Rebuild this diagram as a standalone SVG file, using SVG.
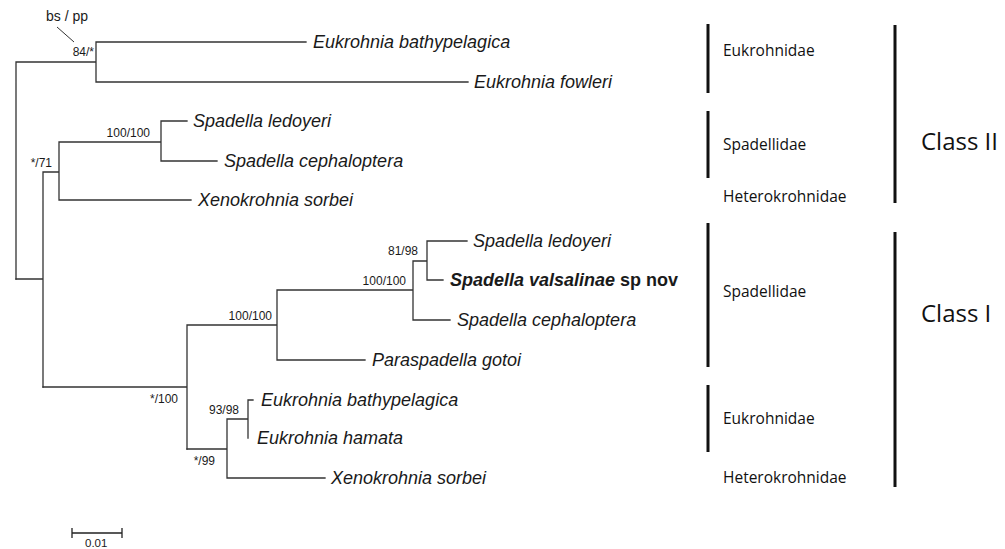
<svg xmlns="http://www.w3.org/2000/svg" width="1005" height="549" viewBox="0 0 1005 549">
<style>
.br{stroke:#333;stroke-width:1.3;fill:none;stroke-linecap:square}
.bar{stroke:#111;stroke-width:3;fill:none}
.tx{font-family:"Liberation Sans",Arial,sans-serif;font-style:italic;font-size:18px;fill:#1a1a1a}
.bold{font-weight:bold}
.sup{font-family:"Liberation Sans",Arial,sans-serif;font-size:12px;fill:#1a1a1a}
.fam{font-family:"Open Sans","Noto Sans",sans-serif;font-size:15.5px;fill:#111}
.cls{font-family:"Open Sans","Noto Sans",sans-serif;font-size:24px;fill:#111}
</style>
<rect width="1005" height="549" fill="#fff"/>
<g id="connectors">
<path class="br" d="M16 62V279M16 62H96M96 42V82M96 42H306M96 82H468"/>
<path class="br" d="M16 279H43M43 172V387M43 172H59M59 142V200M59 142H161M161 121V161M161 121H187M161 161H217M59 200H191"/>
<path class="br" d="M43 387H187M187 325V449M187 325H277M277 290V360M277 290H413M413 261V320M413 261H427M427 241V280M427 241H467M427 280H443M413 320H450M277 360H365"/>
<path class="br" d="M187 449H227M227 419V478M227 419H248M248 400V438M248 400H253M227 478H325"/>
<path d="M57 27L74 42" stroke="#333" stroke-width="1" fill="none"/>
</g>
<g id="support-labels">
<text class="sup" x="46" y="21" style="font-size:14px">bs / pp</text>
<text class="sup" x="94" y="56" text-anchor="end">84/*</text>
<text class="sup" x="150" y="137" text-anchor="end">100/100</text>
<text class="sup" x="52" y="167" text-anchor="end">*/71</text>
<text class="sup" x="272" y="320" text-anchor="end">100/100</text>
<text class="sup" x="406" y="285" text-anchor="end">100/100</text>
<text class="sup" x="418" y="255" text-anchor="end">81/98</text>
<text class="sup" x="178" y="403" text-anchor="end">*/100</text>
<text class="sup" x="239" y="414" text-anchor="end">93/98</text>
<text class="sup" x="215" y="465" text-anchor="end">*/99</text>
</g>
<g id="leaf-eukrohnia-bathypelagica-1"><text class="tx" x="313" y="48">Eukrohnia bathypelagica</text></g>
<g id="leaf-eukrohnia-fowleri"><text class="tx" x="474" y="88">Eukrohnia fowleri</text></g>
<g id="leaf-spadella-ledoyeri-1"><text class="tx" x="193" y="127">Spadella ledoyeri</text></g>
<g id="leaf-spadella-cephaloptera-1"><text class="tx" x="224" y="167">Spadella cephaloptera</text></g>
<g id="leaf-xenokrohnia-sorbei-1"><text class="tx" x="198" y="206">Xenokrohnia sorbei</text></g>
<g id="leaf-spadella-ledoyeri-2"><text class="tx" x="473" y="247">Spadella ledoyeri</text></g>
<g id="leaf-spadella-valsalinae"><text class="tx bold" x="450" y="286">Spadella valsalinae<tspan style="font-style:normal"> sp nov</tspan></text></g>
<g id="leaf-spadella-cephaloptera-2"><text class="tx" x="457" y="326">Spadella cephaloptera</text></g>
<g id="leaf-paraspadella-gotoi"><text class="tx" x="372" y="366">Paraspadella gotoi</text></g>
<g id="leaf-eukrohnia-bathypelagica-2"><text class="tx" x="261" y="406">Eukrohnia bathypelagica</text></g>
<g id="leaf-eukrohnia-hamata"><text class="tx" x="257" y="444">Eukrohnia hamata</text></g>
<g id="leaf-xenokrohnia-sorbei-2"><text class="tx" x="331" y="484">Xenokrohnia sorbei</text></g>
<g id="family-labels">
<path class="bar" d="M708 24V93M708 111V178M708 223V367M708 385V452"/>
<text class="fam" x="723" y="56">Eukrohnidae</text>
<text class="fam" x="723" y="150">Spadellidae</text>
<text class="fam" x="723" y="202">Heterokrohnidae</text>
<text class="fam" x="723" y="297">Spadellidae</text>
<text class="fam" x="723" y="424">Eukrohnidae</text>
<text class="fam" x="723" y="483">Heterokrohnidae</text>
</g>
<g id="class-labels">
<path class="bar" d="M895 25V203M895 232V487"/>
<text class="cls" x="921" y="150">Class II</text>
<text class="cls" x="921" y="322">Class I</text>
</g>
<g id="scale-bar">
<path d="M72 533H122M72 528V538M122 528V538" stroke="#222" stroke-width="1.3" fill="none"/>
<text class="sup" x="85" y="547" style="font-size:11.5px">0.01</text>
</g>
</svg>
